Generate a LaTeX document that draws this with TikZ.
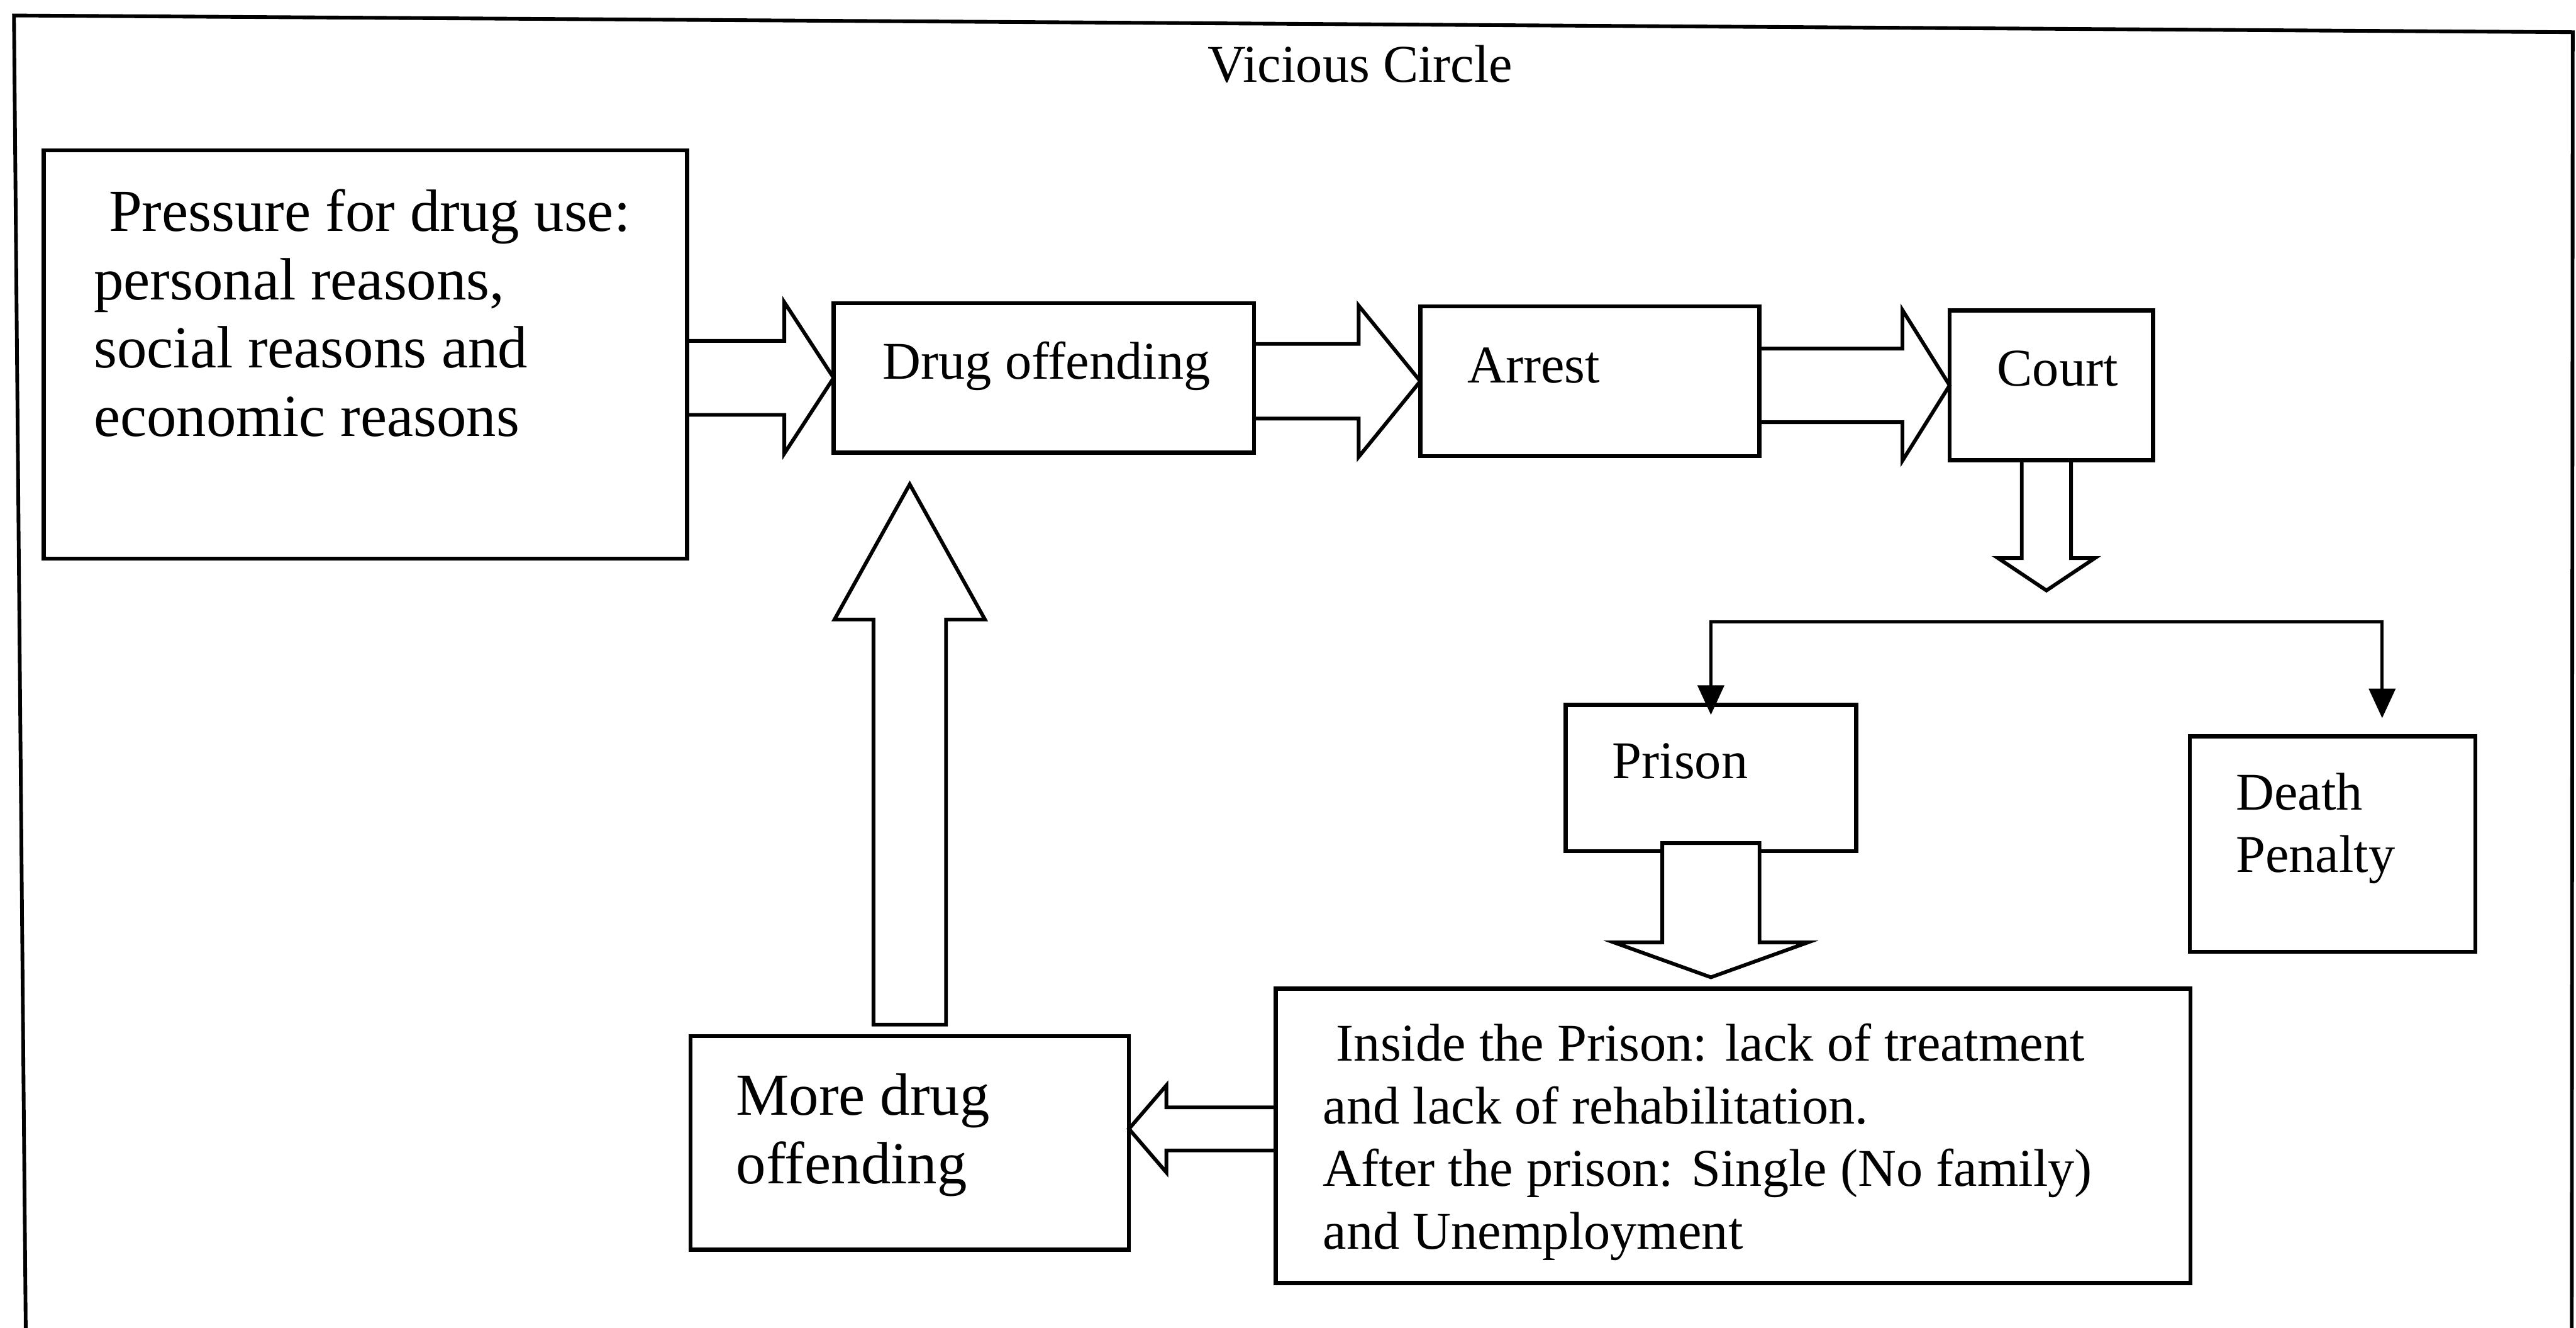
\documentclass[tikz,border=0pt]{standalone}
\usepackage{fontspec}
\setmainfont{Liberation Serif}
\usetikzlibrary{calc,arrows.meta}
\newcommand\mystrut{\rule{0pt}{0.8em}}
\newcommand\rblk[5]{%
  \draw[barrow] ($(#1.east |- #2)+(0,-#3)$) -- ($(#2)+(-#4,-#3)$) -- ($(#2)+(-#4,-#5)$) -- (#2)
    -- ($(#2)+(-#4,#5)$) -- ($(#2)+(-#4,#3)$) -- ($(#1.east |- #2)+(0,#3)$);}
\begin{document}
\begin{tikzpicture}[x=0.02cm,y=-0.02cm,
  box/.style={draw, line width=0.05cm, rectangle, inner sep=0pt, outer sep=0pt},
  barrow/.style={draw, line width=0.045cm, line join=miter},
  conn/.style={draw, line width=0.04cm},
  frame/.style={draw, line width=0.045cm},
  tbig/.style={anchor=north west, inner sep=0pt, align=left, font=\fontsize{20.66pt}{23.67pt}\selectfont},
  tmed/.style={anchor=north west, inner sep=0pt, align=left, font=\fontsize{18.38pt}{21.68pt}\selectfont}]
\fill[white] (0,0) rectangle (1568,808);
\useasboundingbox (0,0) rectangle (1568,808);
% outer frame (open at the bottom)
\draw[frame] (15.7,812) -- (8.5,9.4) -- (1566,19.6) -- (1565.4,812);
% title
\node[tmed, anchor=base] (title) at (828,50) {Vicious Circle};
% boxes
\node[box, minimum width=7.832cm, minimum height=4.97cm] (press) at (222.4,215.75) {};
\node[box, minimum width=5.12cm, minimum height=1.818cm] (drug) at (635.4,229.95) {};
\node[box, minimum width=4.13cm, minimum height=1.82cm] (arrest) at (967.75,232) {};
\node[box, minimum width=2.478cm, minimum height=1.82cm] (court) at (1248.65,234.5) {};
\node[box, minimum width=3.54cm, minimum height=1.78cm] (prison) at (1041.4,473.5) {};
\node[box, minimum width=3.478cm, minimum height=2.624cm] (death) at (1419.85,513.6) {};
\node[box, minimum width=11.14cm, minimum height=3.586cm] (inside) at (1054.9,691.15) {};
\node[box, minimum width=5.338cm, minimum height=2.598cm] (more) at (553.75,695.45) {};
% texts
\node[tbig] (press-t) at (56.8,111.26) {\mystrut\hspace*{0.25em}Pressure for drug use:\\ personal reasons,\\ social reasons and\\ economic reasons};
\node[tmed] (drug-t) at (537,204.46) {\mystrut Drug offending};
\node[tmed] (arrest-t) at (892.9,206.66) {\mystrut Arrest};
\node[tmed] (court-t) at (1215.3,208.56) {\mystrut Court};
\node[tmed] (prison-t) at (981,447.66) {\mystrut Prison};
\node[tmed] (death-t) at (1360.6,466.56) {\mystrut Death\\ Penalty};
\node[tmed] (inside-t) at (805,619.46) {\mystrut\hspace*{0.25em}Inside the Prison: lack of treatment\\ and lack of rehabilitation.\\ After the prison: Single (No family)\\ and Unemployment};
\node[tbig] (more-t) at (447.8,649.16) {\mystrut More drug\\ offending};
% block arrows along the top row
\rblk{press}{drug.west}{22.5}{30}{46}
\rblk{drug}{arrest.west}{22.7}{37.5}{46}
\rblk{arrest}{court.west}{22.4}{28.7}{45.8}
% court down arrow
\draw[barrow] ($(court.south)+(-18,0)$) -- ($(court.south)+(-18,59.6)$) -- ($(court.south)+(-32.5,59.6)$)
  -- ($(court.south)+(-3,79.3)$) -- ($(court.south)+(26.5,59.6)$) -- ($(court.south)+(12,59.6)$) -- ($(court.south)+(12,0)$);
% branch to prison and death penalty
\coordinate (bl) at (1041.4,378.5);
\coordinate (brr) at (1450,378.5);
\draw[conn, {Triangle[length=0.36cm,width=0.32cm]}-{Triangle[length=0.36cm,width=0.32cm]}]
  ($(prison.north)+(0,6)$) -- (bl) -- (brr) -- ($(brr |- death.north)+(0,-11)$);
% prison down arrow
\draw[barrow, fill=white] ($(prison.south)+(-29.6,-5)$) -- ($(prison.south)+(-29.6,55.5)$) -- ($(prison.south)+(-59,55.5)$)
  -- ($(prison.south)+(0,76.7)$) -- ($(prison.south)+(59,55.5)$) -- ($(prison.south)+(29.6,55.5)$) -- ($(prison.south)+(29.6,-5)$) -- cycle;
% left arrow from inside to more drug offending
\coordinate (lt) at ($(more.east)+(0,-8.5)$);
\draw[barrow] ($(inside.west |- lt)+(0,-13.1)$) -- ($(lt)+(22.8,-13.1)$) -- ($(lt)+(22.8,-26.5)$) -- (lt)
  -- ($(lt)+(22.8,26.5)$) -- ($(lt)+(22.8,13.1)$) -- ($(inside.west |- lt)+(0,13.1)$);
% up arrow from more drug offending to drug offending
\coordinate (ut) at ($(more.north |- drug.south)+(0,19.3)$);
\coordinate (ub) at ($(more.north)+(0,-7)$);
\draw[barrow] ($(ub)+(-22.1,0)$) -- ($(ub |- ut)+(-22.1,82.3)$) -- ($(ub |- ut)+(-45.8,82.3)$) -- (ut)
  -- ($(ub |- ut)+(45.8,82.3)$) -- ($(ub |- ut)+(22.1,82.3)$) -- ($(ub)+(22.1,0)$) -- cycle;
\end{tikzpicture}
\end{document}
